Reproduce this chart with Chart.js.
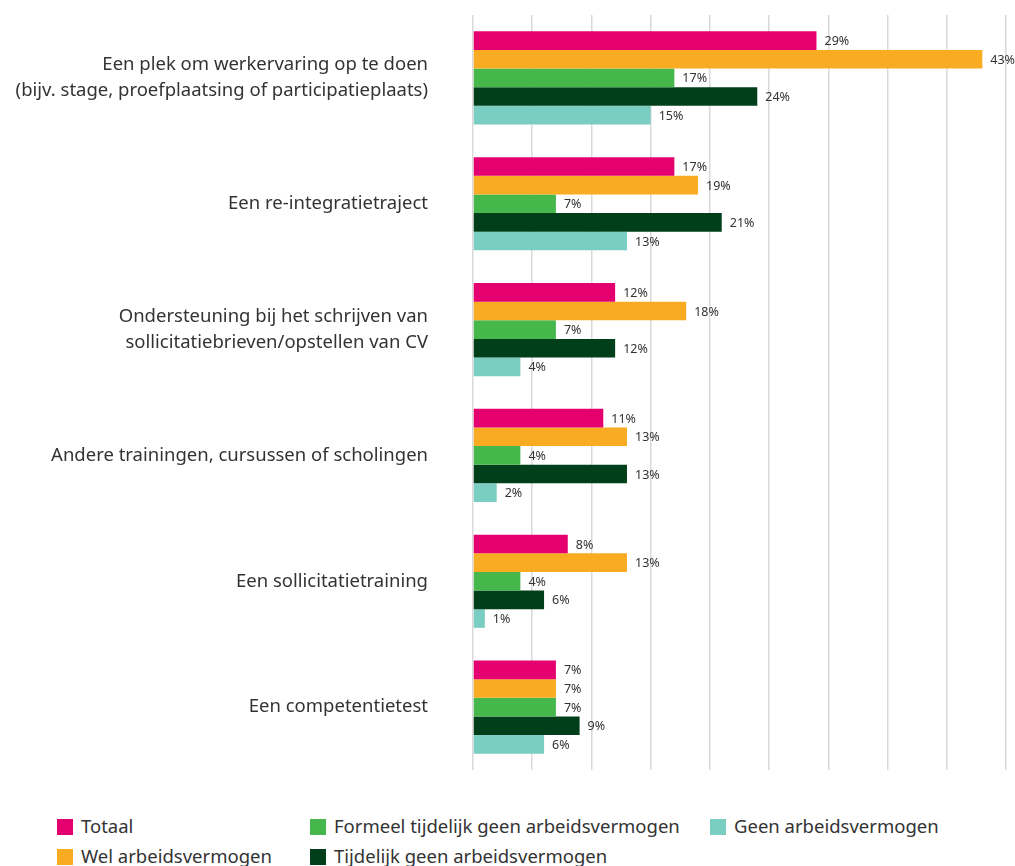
<!DOCTYPE html>
<html>
<head>
<meta charset="utf-8">
<script src="https://cdn.jsdelivr.net/npm/chart.js@4"></script>
<style>
  body { margin: 0; background: #fff; font-family: "Noto Sans", sans-serif; }
  #wrap { position: relative; width: 1015px; height: 866px; }
  #box { position: absolute; left: 0; top: 0; width: 1015px; height: 790px; }
  .leg { position: absolute; font-size: 18.5px; color: #333; white-space: nowrap; line-height: 22px; }
  .leg span { display: inline-block; width: 16px; height: 16px; vertical-align: -2px; margin-right: 8px; }
</style>
</head>
<body>
<div id="wrap">
  <div id="box"><canvas id="canvas"></canvas></div>
  <div id="legend"></div>
</div>
<script>
var categorieen = [
  ['Een plek om werkervaring op te doen', '(bijv. stage, proefplaatsing of participatieplaats)'],
  'Een re-integratietraject',
  ['Ondersteuning bij het schrijven van', 'sollicitatiebrieven/opstellen van CV'],
  'Andere trainingen, cursussen of scholingen',
  'Een sollicitatietraining',
  'Een competentietest'
];
var totaal = [29, 17, 12, 11, 8, 7];
var welArbeid = [43, 19, 18, 13, 13, 7];
var formeelTijdelijk = [17, 7, 7, 4, 4, 7];
var tijdelijkGeen = [24, 21, 12, 13, 6, 9];
var geenArbeid = [15, 13, 4, 2, 1, 6];

var kleuren = {
  roze: '#e5006f',
  oranje: '#f9ab22',
  groen: '#45b74b',
  donkergroen: '#013f1b',
  turkoois: '#7acdc1'
};

// labels met percentage achter elke balk
var waardeLabels = {
  id: 'waardeLabels',
  afterDatasetsDraw: function(chart) {
    var ctx = chart.ctx;
    ctx.save();
    ctx.font = '12.5px "Noto Sans"';
    ctx.fillStyle = '#333';
    ctx.textBaseline = 'middle';
    chart.data.datasets.forEach(function(ds, i) {
      chart.getDatasetMeta(i).data.forEach(function(bar, j) {
        ctx.fillText(ds.data[j] + '%', bar.x + 8, bar.y + 1);
      });
    });
    ctx.restore();
  }
};

var config = {
  type: 'bar',
  data: {
    labels: categorieen,
    datasets: [
      { label: 'Totaal', data: totaal, backgroundColor: kleuren.roze },
      { label: 'Wel arbeidsvermogen', data: welArbeid, backgroundColor: kleuren.oranje },
      { label: 'Formeel tijdelijk geen arbeidsvermogen', data: formeelTijdelijk, backgroundColor: kleuren.groen },
      { label: 'Tijdelijk geen arbeidsvermogen', data: tijdelijkGeen, backgroundColor: kleuren.donkergroen },
      { label: 'Geen arbeidsvermogen', data: geenArbeid, backgroundColor: kleuren.turkoois }
    ]
  },
  options: {
    indexAxis: 'y',
    responsive: true,
    maintainAspectRatio: false,
    animation: false,
    datasets: { bar: { barPercentage: 1, categoryPercentage: 0.74 } },
    layout: { padding: { top: 15, right: 9, bottom: 20, left: 0 } },
    plugins: { legend: { display: false }, tooltip: { enabled: false } },
    scales: {
      x: {
        min: 0, max: 45,
        afterFit: function(scale) { scale.height = 0; },
        ticks: { display: false, stepSize: 5 },
        grid: { color: '#d9d9d9', lineWidth: 1.5, drawTicks: false },
        border: { display: false }
      },
      y: {
        afterFit: function(scale) {
          scale.width = 473;
          scale.paddingTop = 0;
          scale.paddingBottom = 0;
        },
        grid: { display: false },
        border: { display: false },
        ticks: { color: '#333', font: { family: '"Noto Sans"', size: 18.5, lineHeight: 1.4 }, padding: 37 }
      }
    }
  },
  plugins: [waardeLabels]
};

// legenda in drie kolommen onder de grafiek
var legendaItems = [
  { t: 'Totaal', c: kleuren.roze, x: 57, y: 815 },
  { t: 'Wel arbeidsvermogen', c: kleuren.oranje, x: 57, y: 845 },
  { t: 'Formeel tijdelijk geen arbeidsvermogen', c: kleuren.groen, x: 310, y: 815 },
  { t: 'Tijdelijk geen arbeidsvermogen', c: kleuren.donkergroen, x: 310, y: 845 },
  { t: 'Geen arbeidsvermogen', c: kleuren.turkoois, x: 710, y: 815 }
];
var leg = document.getElementById('legend');
legendaItems.forEach(function(it) {
  var d = document.createElement('div');
  d.className = 'leg';
  d.style.left = it.x + 'px';
  d.style.top = it.y + 'px';
  d.innerHTML = '<span style="background:' + it.c + '"></span>' + it.t;
  leg.appendChild(d);
});

window.onload = function() {
  var ctx = document.getElementById('canvas').getContext('2d');
  window.myBar = new Chart(ctx, config);
};
</script>
</body>
</html>
